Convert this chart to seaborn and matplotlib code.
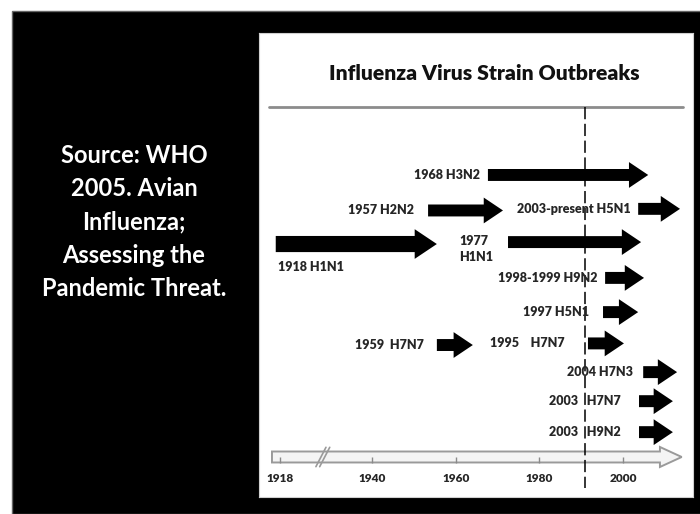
import matplotlib
matplotlib.use("Agg")
import matplotlib.pyplot as plt
from matplotlib.patches import FancyArrow, Rectangle
import seaborn as sns
import pandas as pd

# outbreak arrows (years on the timeline, row = track from the top)
strains = ["1968 H3N2", "1957 H2N2", "2003-present H5N1", "1918 H1N1", "1977\nH1N1",
           "1998-1999 H9N2", "1997 H5N1", "1959  H7N7", "1995    H7N7",
           "2004 H7N3", "2003   H7N7", "2003   H9N2"]
start_year = [1967.7, 1953.4, 2003.6, 1917.0, 1972.5, 1995.7, 1995.2, 1955.5, 1991.6,
              2004.8, 2003.8, 2003.8]
end_year = [2006.0, 1971.3, 2013.6, 1955.5, 2004.3, 2005.0, 2003.6, 1964.1, 2000.2,
            2012.9, 2011.9, 2011.9]
row = [0, 1.1, 1.05, 2.14, 2.08, 3.19, 4.25, 5.27, 5.22, 6.11, 7.01, 7.97]

tick_years = [1918, 1940, 1960, 1980, 2000]
dash_year = 1991

title = "Influenza Virus Strain Outbreaks"
source = "Source: WHO\n2005. Avian\nInfluenza;\nAssessing the\nPandemic Threat."

# label offset (px) from the arrow tail: (left gap, downward shift)
label_off = [(8, 0), (14, 0), (8, 0), (0, 0), (15, 7), (8, 0), (14, 0), (13, 0),
             (23, 0), (10, 0), (18, 0), (18, 0)]

df = pd.DataFrame({"strain": strains, "start": start_year, "end": end_year, "row": row})

sns.set_theme(style="white")
plt.rcParams["font.family"] = ["Lato", "DejaVu Sans"]

W, H = 700, 514
fig = plt.figure(figsize=(7, 5.14), dpi=100)
fig.patch.set_facecolor("white")
fig.add_artist(Rectangle((12 / W, 0), 1, (H - 11) / H, transform=fig.transFigure,
                         facecolor="black", edgecolor="#666666", lw=1, zorder=-5))

fig.text(134 / W, 1 - 222 / H, source, color="white", fontsize=17, fontweight="bold",
         ha="center", va="center", linespacing=1.55)

ax = fig.add_axes([259 / W, (H - 497) / H, (693 - 259) / W, (497 - 33) / H])
ax.set_zorder(2)
ax.set_facecolor("white")
ax.set_xlim(1913.0, 2016.7)
ax.set_ylim(9.98, -4.40)
ax.set_xticks([])
ax.set_yticks([])
for s in ax.spines.values():
    s.set_color("#d0d0d0")
    s.set_linewidth(0.8)

ax.text(1966.8, -3.16, title, fontsize=15.2, fontweight="heavy",
        ha="center", va="center", color="#111111")
ax.plot([1915.5, 2014.3], [-2.11, -2.11], color="#8c8c8c", lw=2)
ax.plot([dash_year, dash_year], [-2.11, 9.71], color="black", lw=1.1,
        dashes=(8, 3))

for i, r in df.iterrows():
    big = r["strain"].startswith("1918")
    ax.add_patch(FancyArrow(r["start"], r["row"], r["end"] - r["start"], 0,
                            width=0.5 if big else 0.37,
                            head_width=0.92 if big else 0.8,
                            head_length=5.3 if big else 4.6,
                            length_includes_head=True, color="black", lw=0))
    if big:
        ax.annotate(r["strain"], (r["start"], r["row"]), xytext=(2, -23),
                    textcoords="offset pixels", ha="left", va="center",
                    fontsize=9, fontweight="heavy")
    else:
        gx, gy = label_off[i]
        ax.annotate(r["strain"], (r["start"], r["row"]),
                    xytext=(-gx, -gy), textcoords="offset pixels",
                    ha="right", va="center", multialignment="left",
                    fontsize=9, fontweight="heavy", linespacing=1.4)

# bottom timeline
ty = 8.74
ax.add_patch(FancyArrow(1916.1, ty, 2014.0 - 1916.1, 0, width=0.34, head_width=0.62,
                        head_length=5.2, length_includes_head=True,
                        facecolor="#f4f4f4", edgecolor="#9a9a9a", lw=1.4))
for dx in (0, 0.9):
    ax.plot([1926.6 + dx, 1929.0 + dx], [ty + 0.3, ty - 0.3], color="#9a9a9a", lw=1.2)
ticks = pd.DataFrame({"year": tick_years, "y": [ty + 0.1] * len(tick_years)})
sns.scatterplot(data=ticks, x="year", y="y", marker="|", s=20, color="#8a8a8a",
                linewidth=1, ax=ax, legend=False)
for yr in tick_years:
    ax.text(yr, 9.40, str(yr), fontsize=8.5, fontweight="heavy", ha="center", va="center")
ax.set_xlabel("")
ax.set_ylabel("")

fig.savefig("out.png", dpi=100, facecolor=fig.get_facecolor())
